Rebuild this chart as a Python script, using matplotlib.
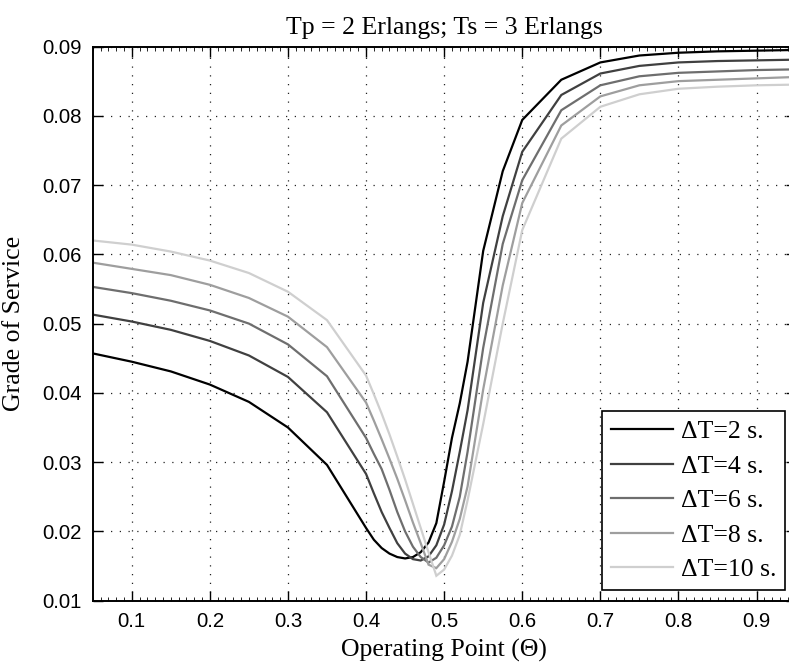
import matplotlib
matplotlib.use("Agg")
import matplotlib.pyplot as plt
from matplotlib.ticker import MultipleLocator

# ---- data ----
theta = [0.05, 0.10, 0.15, 0.20, 0.25, 0.30, 0.35, 0.40, 0.41, 0.42, 0.43, 0.44,
         0.45, 0.46, 0.47, 0.48, 0.49, 0.50, 0.51, 0.52, 0.53, 0.55, 0.575, 0.60,
         0.65, 0.70, 0.75, 0.80, 0.85, 0.90, 0.95]

gos_dt2 = [0.0457, 0.0445, 0.0431, 0.0412, 0.0387, 0.0350, 0.0296, 0.0205, 0.0188, 0.0176,
           0.0168, 0.0163, 0.0161, 0.0163, 0.0170, 0.0184, 0.0212, 0.0272, 0.0335, 0.0385,
           0.0445, 0.0605, 0.0720, 0.0794, 0.0852, 0.0877, 0.0887, 0.0891, 0.0893, 0.0894, 0.0895]
gos_dt4 = [0.0513, 0.0503, 0.0491, 0.0475, 0.0454, 0.0423, 0.0372, 0.0283, 0.0255, 0.0228,
           0.0205, 0.0183, 0.0168, 0.0160, 0.0158, 0.0164, 0.0180, 0.0210, 0.0258, 0.0315,
           0.0375, 0.0530, 0.0655, 0.0748, 0.0830, 0.0861, 0.0872, 0.0877, 0.0879, 0.0880, 0.0881]
gos_dt6 = [0.0553, 0.0544, 0.0533, 0.0519, 0.0500, 0.0470, 0.0424, 0.0335, 0.0312, 0.0290,
           0.0260, 0.0228, 0.0200, 0.0178, 0.0163, 0.0155, 0.0162, 0.0180, 0.0207, 0.0250,
           0.0315, 0.0465, 0.0615, 0.0707, 0.0808, 0.0844, 0.0857, 0.0862, 0.0864, 0.0866, 0.0867]
gos_dt8 = [0.0588, 0.0579, 0.0570, 0.0556, 0.0537, 0.0510, 0.0466, 0.0386, 0.0360, 0.0333,
           0.0305, 0.0276, 0.0245, 0.0213, 0.0183, 0.0152, 0.0147, 0.0160, 0.0185, 0.0218,
           0.0265, 0.0405, 0.0555, 0.0674, 0.0786, 0.0828, 0.0844, 0.0850, 0.0852, 0.0854, 0.0856]
gos_dt10 = [0.0620, 0.0614, 0.0604, 0.0591, 0.0573, 0.0546, 0.0505, 0.0425, 0.0398, 0.0370,
            0.0340, 0.0308, 0.0275, 0.0240, 0.0205, 0.0170, 0.0136, 0.0145, 0.0165, 0.0195,
            0.0245, 0.0355, 0.0500, 0.0635, 0.0767, 0.0813, 0.0831, 0.0839, 0.0842, 0.0844, 0.0845]

series = [gos_dt2, gos_dt4, gos_dt6, gos_dt8, gos_dt10]
labels = ["\u0394T=2 s.", "\u0394T=4 s.", "\u0394T=6 s.", "\u0394T=8 s.", "\u0394T=10 s."]
colors = ["#000000", "#404040", "#6e6e6e", "#9e9e9e", "#cfcfcf"]

title = "Tp = 2 Erlangs; Ts = 3 Erlangs"
xlabel = "Operating Point (\u0398)"
ylabel = "Grade of Service"
xticks = [0.1, 0.2, 0.3, 0.4, 0.5, 0.6, 0.7, 0.8, 0.9]
yticks = [0.01, 0.02, 0.03, 0.04, 0.05, 0.06, 0.07, 0.08, 0.09]

serif = "Liberation Serif"
sans = "Liberation Sans"

W, H = 789, 662
fig = plt.figure(figsize=(W / 100, H / 100), dpi=100)
ax = fig.add_axes([92.7 / W, (H - 600.7) / H, (795.6 - 92.7) / W, (600.7 - 46.5) / H])

for y, lab, c in zip(series, labels, colors):
    ax.plot(theta, y, color=c, lw=1.6, label=lab, solid_joinstyle="miter")

ax.set_xlim(0.05, 0.95)
ax.set_ylim(0.01, 0.09)
ax.set_xticks(xticks)
ax.set_yticks(yticks)
ax.set_xticklabels([f"{v:g}" for v in xticks], fontfamily=sans, fontsize=14.7)
ax.set_yticklabels([f"{v:.2f}" for v in yticks], fontfamily=sans, fontsize=14.7)
ax.xaxis.set_minor_locator(MultipleLocator(0.01))
ax.tick_params(which="major", direction="in", length=7, width=1.0, top=True, right=True,
               pad=8, colors="black")
ax.tick_params(which="minor", axis="x", direction="in", length=3, width=0.6, top=True)
ax.tick_params(which="minor", axis="y", left=False, right=False)

ax.grid(True, which="major", color="#222222", lw=0.9, linestyle=(0, (1, 6)))
for s in ax.spines.values():
    s.set_linewidth(1.4)
    s.set_color("black")

ax.set_title(title, fontfamily=serif, fontsize=18.5, pad=9)
ax.set_xlabel(xlabel, fontfamily=serif, fontsize=18.5, labelpad=6)
ax.set_ylabel(ylabel, fontfamily=serif, fontsize=18.5, labelpad=12)

leg = ax.legend(loc="lower right", bbox_to_anchor=(0.985, 0.019), prop={"family": serif, "size": 18.5},
                frameon=True, fancybox=False, edgecolor="black", framealpha=1.0,
                handlelength=2.4, handletextpad=0.3, labelspacing=0.45, borderpad=0.35,
                borderaxespad=0.0)
leg.get_frame().set_linewidth(1.2)

fig.savefig("out.png", dpi=100)
